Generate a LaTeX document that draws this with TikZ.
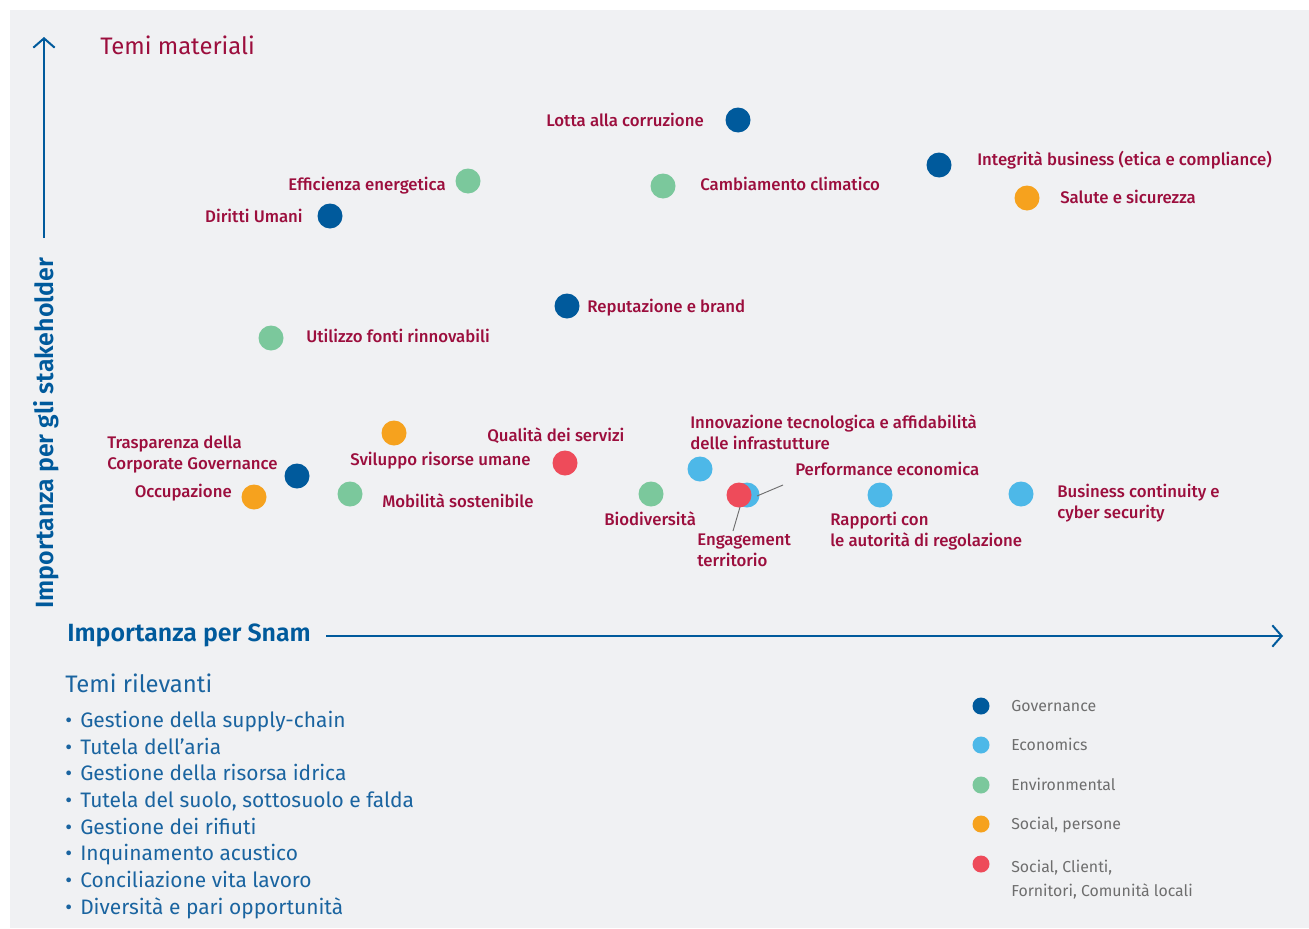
\documentclass[tikz,border=0pt]{standalone}
\usepackage{fontspec}
\setmainfont{Fira Sans}
\newfontfamily\medfont{Fira Sans Medium}
\newfontfamily\boldfont{Fira Sans SemiBold}
\usetikzlibrary{arrows.meta,calc}
\definecolor{bgc}{HTML}{F0F1F3}
\definecolor{lab}{HTML}{9C0E3D}
\definecolor{axis}{HTML}{005A9C}
\definecolor{gov}{HTML}{005A9C}
\definecolor{eco}{HTML}{4DB8E8}
\definecolor{env}{HTML}{7BC89C}
\definecolor{soc}{HTML}{F6A21E}
\definecolor{red}{HTML}{EE4B5A}
\definecolor{legtxt}{HTML}{6E6E6E}
\definecolor{listc}{HTML}{1A64A0}
\tikzset{
  dot/.style={circle,inner sep=0pt,minimum size=18.75pt},
  ldot/.style={circle,inner sep=0pt,minimum size=12.75pt},
  lbl/.style={text=lab,inner sep=0pt,yshift=-1.8pt,font=\medfont\fontsize{12.6}{15.75}\selectfont,align=left},
  legl/.style={text=legtxt,inner sep=0pt,yshift=-1.6pt,font=\fontsize{11.9}{18}\selectfont,align=left,anchor=mid west},
  axisarrow/.style={draw=axis,line width=1.6pt,-{Straight Barb[length=7pt,width=16pt,line width=1.5pt]}},
  leader/.style={draw=legtxt,line width=0.7pt}
}
\begin{document}
\begin{tikzpicture}[x=0.75pt,y=-0.75pt]
\useasboundingbox (0,0) rectangle (1309,928);
\fill[bgc] (10,10) rectangle (1309,928);
% axes
\coordinate (ya) at (44,238);
\coordinate (yb) at (44,37);
\coordinate (xa) at (326,636);
\coordinate (xb) at (1283,636);
\draw[axisarrow] (ya) -- (yb);
\draw[axisarrow] (xa) -- (xb);
\node[rotate=90,text=axis,inner sep=0pt,font=\boldfont\fontsize{18.7}{22}\selectfont] (ylab) at (46,433) {Importanza per gli stakeholder};
\node[anchor=mid west,text=axis,inner sep=0pt,yshift=-1.5pt,font=\boldfont\fontsize{18.7}{22}\selectfont] (xlab) at (67,636) {Importanza per Snam};
\node[anchor=mid west,text=lab,inner sep=0pt,yshift=-4pt,font=\fontsize{17.9}{20}\selectfont] (title) at (100,46) {Temi materiali};
% dots
\node[dot,fill=gov] (d1) at (738,120) {};
\node[lbl,anchor=mid east] (l1) at (704,121) {Lotta alla corruzione};
\node[dot,fill=gov] (d2) at (939,165) {};
\node[lbl,anchor=mid west] (l2) at (977,160) {Integrità business (etica e compliance)};
\node[dot,fill=soc] (d3) at (1027,198) {};
\node[lbl,anchor=mid west] (l3) at (1060,198) {Salute e sicurezza};
\node[dot,fill=env] (d4) at (663,186) {};
\node[lbl,anchor=mid west] (l4) at (700,185) {Cambiamento climatico};
\node[dot,fill=env] (d5) at (468,181) {};
\node[lbl,anchor=mid east] (l5) at (446,185) {Efficienza energetica};
\node[dot,fill=gov] (d6) at (330,216) {};
\node[lbl,anchor=mid east] (l6) at (303,217) {Diritti Umani};
\node[dot,fill=gov] (d7) at (567,306) {};
\node[lbl,anchor=mid west] (l7) at (587,307) {Reputazione e brand};
\node[dot,fill=env] (d8) at (271,338) {};
\node[lbl,anchor=mid west] (l8) at (306,337) {Utilizzo fonti rinnovabili};
\node[dot,fill=gov] (d9) at (297,476) {};
\node[lbl,anchor=west] (l9) at (107,452) {Trasparenza della\\Corporate Governance};
\node[dot,fill=soc] (d10) at (254,497) {};
\node[lbl,anchor=mid east] (l10) at (232,492) {Occupazione};
\node[dot,fill=soc] (d11) at (394,433) {};
\node[lbl,anchor=mid west] (l11) at (350,460) {Sviluppo risorse umane};
\node[dot,fill=env] (d12) at (350,494) {};
\node[lbl,anchor=mid west] (l12) at (382,502) {Mobilità sostenibile};
\node[dot,fill=red] (d13) at (565,463) {};
\node[lbl,anchor=mid west] (l13) at (487,436) {Qualità dei servizi};
\node[dot,fill=env] (d14) at (651,494) {};
\node[lbl,anchor=mid west] (l14) at (604,520) {Biodiversità};
\node[dot,fill=eco] (d15) at (700,469) {};
\node[lbl,anchor=west] (l15) at (690,430) {Innovazione tecnologica e affidabilità\\delle infrastutture};
\node[dot,fill=eco] (d16) at (747,495) {};
\node[lbl,anchor=mid west] (l16) at (795,470) {Performance economica};
\node[dot,fill=red] (d17) at (739,495) {};
\node[lbl,anchor=west] (l17) at (697,548) {Engagement\\territorio};
\node[dot,fill=eco] (d18) at (880,495) {};
\node[lbl,anchor=west] (l18) at (830,529) {Rapporti con\\le autorità di regolazione};
\node[dot,fill=eco] (d19) at (1021,494) {};
\node[lbl,anchor=west] (l19) at (1057,501) {Business continuity e\\cyber security};
% leaders
\coordinate (p1) at (757,496);
\coordinate (p2) at (783,485);
\coordinate (e1) at (740,507);
\coordinate (e2) at (733,531);
\draw[leader] (p1) -- (p2);
\draw[leader] (e1) -- (e2);
% lower-left list
\node[anchor=mid west,text=listc,inner sep=0pt,yshift=-2pt,font=\fontsize{17.9}{20}\selectfont] (rel) at (65,686) {Temi rilevanti};
\node[anchor=west,text=listc,inner sep=0pt,align=left,font=\fontsize{15.7}{20}\selectfont] (list) at (65,815) {%
•\hspace{2pt} Gestione della supply-chain\\
•\hspace{2pt} Tutela dell’aria\\
•\hspace{2pt} Gestione della risorsa idrica\\
•\hspace{2pt} Tutela del suolo, sottosuolo e falda\\
•\hspace{2pt} Gestione dei rifiuti\\
•\hspace{2pt} Inquinamento acustico\\
•\hspace{2pt} Conciliazione vita lavoro\\
•\hspace{2pt} Diversità e pari opportunità};
% legend
\node[ldot,fill=gov] (g1) at (981,706) {};
\node[legl] (t1) at (1011,706) {Governance};
\node[ldot,fill=eco] (g2) at (981,745) {};
\node[legl] (t2) at (1011,745) {Economics};
\node[ldot,fill=env] (g3) at (981,785) {};
\node[legl] (t3) at (1011,785) {Environmental};
\node[ldot,fill=soc] (g4) at (981,824) {};
\node[legl] (t4) at (1011,824) {Social, persone};
\node[ldot,fill=red] (g5) at (981,864) {};
\node[legl,anchor=west] (t5) at (1011,877) {Social, Clienti,\\Fornitori, Comunità locali};
\end{tikzpicture}
\end{document}
